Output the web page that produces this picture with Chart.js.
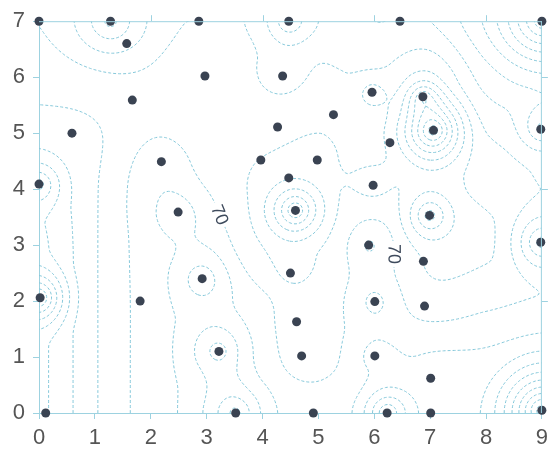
<!DOCTYPE html>
<html>
<head>
<meta charset="utf-8">
<script src="https://cdn.jsdelivr.net/npm/chart.js@4.4.1/dist/chart.umd.min.js"></script>
<style>
  html, body { margin: 0; padding: 0; background: #ffffff; }
  #wrap { width: 554px; height: 457px; }
</style>
</head>
<body>
<div id="wrap"><canvas id="chart" width="554" height="457"></canvas></div>
<script>
// Sampling stations
const stationX = [0, 1.28, 2.86, 4.47, 6.46, 9, 1.57, 2.97, 4.36, 1.67, 5.96, 6.87, 5.27, 4.27, 7.06, 8.98,
  0.59, 6.28, 2.19, 3.97, 4.98, 4.47, 0, 5.98, 2.49, 4.59, 6.99, 5.9, 8.98, 6.88, 4.5, 2.92,
  0.02, 1.81, 6.01, 6.9, 4.61, 4.7, 3.22, 6.01, 7.01, 0.12, 3.52, 4.91, 6.23, 7.01, 9];
const stationY = [7, 7, 7, 7, 7, 7, 6.6, 6.02, 6.02, 5.59, 5.73, 5.65, 5.33, 5.11, 5.05, 5.07,
  5.0, 4.83, 4.49, 4.52, 4.52, 4.2, 4.09, 4.07, 3.59, 3.62, 3.53, 3.0, 3.05, 2.71, 2.5, 2.4,
  2.06, 2.0, 1.99, 1.91, 1.63, 1.02, 1.1, 1.02, 0.62, 0, 0, 0, 0, 0, 0.05];

// Regional level at each whole-unit node, rows y = 0 … 7, columns x = 0 … 9
const regionalRow0 = [63.5, 67.8, 71.0, 72.5, 71.5, 71.0, 71.5, 73.0, 73.5, 76.0];
const regionalRow1 = [63.5, 67.8, 71.0, 72.5, 71.0, 69.5, 71.2, 72.2, 72.4, 73.5];
const regionalRow2 = [63.5, 67.8, 71.0, 72.5, 70.5, 69.0, 70.8, 68.8, 69.5, 70.2];
const regionalRow3 = [63.5, 67.8, 71.0, 71.5, 68.0, 68.0, 70.3, 67.5, 67.6, 69.5];
const regionalRow4 = [64.5, 67.8, 71.0, 69.8, 67.5, 67.5, 69.0, 67.5, 68.5, 70.0];
const regionalRow5 = [66.8, 67.8, 69.5, 69.0, 68.5, 68.0, 68.5, 66.0, 70.0, 71.0];
const regionalRow6 = [69.0, 69.0, 69.5, 69.0, 69.5, 69.5, 70.0, 68.0, 73.0, 75.0];
const regionalRow7 = [70.0, 70.0, 70.0, 70.0, 70.0, 71.0, 72.0, 72.0, 76.0, 79.0];

// Local anomalies around single stations (centre, strength, radius of influence)
const anomalyX      = [0,    0,    1.28, 2.49, 2.92, 3.22, 3.52, 2.19, 4.59, 4.5,  4.61, 4.7,  4.47, 4.36, 7.06, 6.87, 5.96, 6.99, 9,    9,    9,    9,    6.23, 5.9,  5.98, 6.01, 6.01];
const anomalyY      = [2.06, 4.09, 7,    3.59, 2.4,  1.1,  0,    4.49, 3.62, 2.5,  1.63, 1.02, 7,    6.02, 5.05, 5.65, 5.73, 3.53, 5.07, 3.05, 7,    0.05, 0,    3.0,  4.07, 1.99, 1.02];
const anomalyAmp    = [-11,  -6,   7,    2.5,  3.5,  5,    7,    1.5,  -10,  -1.5, -1.5, -1.5, 6,    2,    -12,  -6,   -3,   -7,   6,    8,    9,    14,   9,    2.2,  -2,   2,    2];
const anomalyRadius = [0.9,  0.75, 1.4,  0.9,  0.9,  1.0,  1.1,  0.9,  0.9,  0.8,  0.8,  0.8,  0.9,  0.9,  1.0,  0.6,  0.6,  0.8,  0.8,  1.0,  1.3,  1.4,  0.9,  0.8,  0.8,  0.8,  0.8];
const contourBase = 70;
const contourStep = 2;

// Labelled isolines (approximate place; snapped onto the 70 line)
const isoLabelText = ['70', '70'];
const isoLabelX    = [3.36, 6.37];
const isoLabelY    = [3.6, 2.86];

const xTicks = [0, 1, 2, 3, 4, 5, 6, 7, 8, 9];
const yTicks = [0, 1, 2, 3, 4, 5, 6, 7];
const xMin = xTicks[0], xMax = xTicks[xTicks.length - 1];
const yMin = yTicks[0], yMax = yTicks[yTicks.length - 1];

const LINE = '#86c8da';
const AXIS = '#9dd2e0';

const regional = [regionalRow0, regionalRow1, regionalRow2, regionalRow3, regionalRow4, regionalRow5, regionalRow6, regionalRow7];
const nodeCols = regionalRow0.length, nodeRows = regional.length;

function cubic(p0, p1, p2, p3, t) {
  return p1 + 0.5 * t * (p2 - p0 + t * (2 * p0 - 5 * p1 + 4 * p2 - p3 + t * (3 * (p1 - p2) + p3 - p0)));
}
function node(i, j) {
  i = Math.max(0, Math.min(nodeCols - 1, i));
  j = Math.max(0, Math.min(nodeRows - 1, j));
  return regional[j][i];
}
function regionalAt(x, y) {
  const i = Math.min(nodeCols - 2, Math.floor(x)), j = Math.min(nodeRows - 2, Math.floor(y));
  const tx = x - i, ty = y - j;
  const rows = [];
  for (let k = -1; k <= 2; k++) {
    rows.push(cubic(node(i - 1, j + k), node(i, j + k), node(i + 1, j + k), node(i + 2, j + k), tx));
  }
  return cubic(rows[0], rows[1], rows[2], rows[3], ty);
}
function surface(x, y) {
  let v = regionalAt(x, y);
  for (let i = 0; i < anomalyX.length; i++) {
    const t = Math.hypot(x - anomalyX[i], y - anomalyY[i]) / anomalyRadius[i];
    if (t < 1) v += anomalyAmp[i] * (1 - t) * (1 - t);
  }
  return v;
}

// sample the surface on a regular grid
const H = 0.04;
const nx = Math.round((xMax - xMin) / H) + 1;
const ny = Math.round((yMax - yMin) / H) + 1;
const grid = new Float64Array(nx * ny);
let gMin = Infinity, gMax = -Infinity;
for (let j = 0; j < ny; j++) {
  for (let i = 0; i < nx; i++) {
    const v = surface(xMin + i * H, yMin + j * H);
    grid[j * nx + i] = v;
    if (v < gMin) gMin = v;
    if (v > gMax) gMax = v;
  }
}

// marching squares, chained into polylines
function isolines(L) {
  const pts = {};
  const segs = [];
  const g = (i, j) => grid[j * nx + i];
  for (let j = 0; j < ny - 1; j++) {
    for (let i = 0; i < nx - 1; i++) {
      const v0 = g(i, j), v1 = g(i + 1, j), v2 = g(i + 1, j + 1), v3 = g(i, j + 1);
      const b0 = v0 >= L, b1 = v1 >= L, b2 = v2 >= L, b3 = v3 >= L;
      const x0 = xMin + i * H, y0 = yMin + j * H;
      const e = [];
      if (b0 !== b1) { const k = 'h' + i + ',' + j; pts[k] = { x: x0 + H * (L - v0) / (v1 - v0), y: y0 }; e[0] = k; }
      if (b1 !== b2) { const k = 'v' + (i + 1) + ',' + j; pts[k] = { x: x0 + H, y: y0 + H * (L - v1) / (v2 - v1) }; e[1] = k; }
      if (b2 !== b3) { const k = 'h' + i + ',' + (j + 1); pts[k] = { x: x0 + H * (L - v3) / (v2 - v3), y: y0 + H }; e[2] = k; }
      if (b3 !== b0) { const k = 'v' + i + ',' + j; pts[k] = { x: x0, y: y0 + H * (L - v0) / (v3 - v0) }; e[3] = k; }
      const found = e.filter(Boolean);
      if (found.length === 2) {
        segs.push([found[0], found[1]]);
      } else if (found.length === 4) {
        const c = (v0 + v1 + v2 + v3) / 4 >= L;
        if (c === b0) { segs.push([e[0], e[1]]); segs.push([e[2], e[3]]); }
        else { segs.push([e[3], e[0]]); segs.push([e[1], e[2]]); }
      }
    }
  }
  const adj = new Map();
  segs.forEach((s, k) => {
    for (const key of s) {
      if (!adj.has(key)) adj.set(key, []);
      adj.get(key).push(k);
    }
  });
  const used = new Uint8Array(segs.length);
  const walk = (start, out) => {
    let cur = start;
    for (;;) {
      let nxt = -1;
      for (const m of adj.get(cur)) if (!used[m]) { nxt = m; break; }
      if (nxt < 0) break;
      used[nxt] = 1;
      cur = segs[nxt][0] === cur ? segs[nxt][1] : segs[nxt][0];
      out.push(cur);
    }
  };
  const lines = [];
  for (let k = 0; k < segs.length; k++) {
    if (used[k]) continue;
    used[k] = 1;
    const fwd = [segs[k][0], segs[k][1]];
    walk(segs[k][1], fwd);
    const back = [];
    walk(segs[k][0], back);
    const chain = back.reverse().concat(fwd);
    lines.push(chain.map(key => pts[key]));
  }
  return lines;
}

const datasets = [{
  type: 'scatter',
  label: 'stations',
  data: stationX.map((x, i) => ({ x: x, y: stationY[i] })),
  pointRadius: 4.5,
  pointBackgroundColor: '#3a4352',
  pointBorderColor: '#3a4352',
  pointBorderWidth: 0,
  showLine: false,
  clip: false,
  order: 0
}];

let labelLines = [];
const firstLevel = Math.ceil((gMin - contourBase) / contourStep) * contourStep + contourBase;
for (let L = firstLevel; L <= gMax; L += contourStep) {
  const lines = isolines(L + 1e-6).filter(l => l.length >= 2);
  if (L === contourBase) labelLines = lines;
  const data = [];
  for (const line of lines) {
    for (const p of line) data.push(p);
    data.push({ x: null, y: null });
  }
  if (!data.length) continue;
  datasets.push({
    type: 'scatter',
    label: String(L),
    data: data,
    showLine: true,
    spanGaps: false,
    borderColor: LINE,
    borderWidth: 1,
    borderDash: [3, 2],
    pointRadius: 0,
    tension: 0,
    order: 1
  });
}

// place each label on the nearest vertex of the labelled isoline, turned along it
function labelPlacement(chart, lx, ly) {
  const { x, y } = chart.scales;
  const tx = x.getPixelForValue(lx), ty = y.getPixelForValue(ly);
  let best = null, bestD = Infinity;
  for (const line of labelLines) {
    for (let k = 0; k < line.length; k++) {
      const px = x.getPixelForValue(line[k].x), py = y.getPixelForValue(line[k].y);
      const d = (px - tx) ** 2 + (py - ty) ** 2;
      if (d < bestD) { bestD = d; best = { line, k, px, py }; }
    }
  }
  if (!best) return null;
  const a = best.line[Math.max(0, best.k - 4)], b = best.line[Math.min(best.line.length - 1, best.k + 4)];
  let ang = Math.atan2(y.getPixelForValue(b.y) - y.getPixelForValue(a.y), x.getPixelForValue(b.x) - x.getPixelForValue(a.x));
  if (ang > Math.PI / 2) ang -= Math.PI;
  if (ang <= -Math.PI / 2) ang += Math.PI;
  return { px: best.px, py: best.py, ang };
}

const frame = {
  id: 'frame',
  afterDatasetsDraw(chart) {
    const { ctx, chartArea: a, scales: { x, y } } = chart;
    ctx.save();
    ctx.strokeStyle = AXIS;
    ctx.lineWidth = 1;
    ctx.beginPath();
    ctx.moveTo(a.left, a.top + 0.5); ctx.lineTo(a.right, a.top + 0.5);
    ctx.moveTo(a.right - 0.5, a.top); ctx.lineTo(a.right - 0.5, a.bottom);
    for (const t of xTicks) if (t % 2 === 0 && t > xMin && t < xMax) {
      const px = Math.round(x.getPixelForValue(t)) + 0.5;
      ctx.moveTo(px, a.top); ctx.lineTo(px, a.top - 6);
    }
    for (const t of yTicks) if (t % 2 === 0 && t > yMin && t < yMax) {
      const py = Math.round(y.getPixelForValue(t)) + 0.5;
      ctx.moveTo(a.right, py); ctx.lineTo(a.right + 6, py);
    }
    ctx.stroke();

    ctx.font = '18px "Liberation Sans", Arial, sans-serif';
    ctx.textAlign = 'center';
    ctx.textBaseline = 'middle';
    for (let i = 0; i < isoLabelText.length; i++) {
      const p = labelPlacement(chart, isoLabelX[i], isoLabelY[i]);
      if (!p) continue;
      ctx.save();
      ctx.translate(p.px, p.py);
      ctx.rotate(p.ang);
      const w = ctx.measureText(isoLabelText[i]).width;
      ctx.fillStyle = '#ffffff';
      ctx.fillRect(-w / 2 - 3, -9, w + 6, 18);
      ctx.fillStyle = '#3e4a5c';
      ctx.fillText(isoLabelText[i], 0, 1);
      ctx.restore();
    }
    ctx.restore();
  }
};

const tickFont = { family: '"Liberation Sans", Arial, sans-serif', size: 22 };

new Chart(document.getElementById('chart'), {
  type: 'scatter',
  data: { datasets: datasets },
  options: {
    responsive: false,
    animation: false,
    devicePixelRatio: 1,
    layout: { padding: { top: 17, right: 9, left: 0, bottom: 0 } },
    plugins: { legend: { display: false }, tooltip: { enabled: false } },
    scales: {
      x: {
        type: 'linear', min: xMin, max: xMax,
        afterBuildTicks: s => { s.ticks = xTicks.map(v => ({ value: v })); },
        afterFit: s => { s.height = 44; },
        ticks: { color: '#555555', font: tickFont, padding: 6, maxRotation: 0 },
        grid: { display: true, drawOnChartArea: false, drawTicks: true, tickLength: 6, color: AXIS },
        border: { display: true, color: AXIS }
      },
      y: {
        type: 'linear', min: yMin, max: yMax,
        afterBuildTicks: s => { s.ticks = yTicks.map(v => ({ value: v })); },
        afterFit: s => { s.width = 39; },
        ticks: { color: '#555555', font: tickFont, padding: 8 },
        grid: { display: true, drawOnChartArea: false, drawTicks: true, tickLength: 6, color: AXIS },
        border: { display: true, color: AXIS }
      }
    }
  },
  plugins: [frame]
});
</script>
</body>
</html>
